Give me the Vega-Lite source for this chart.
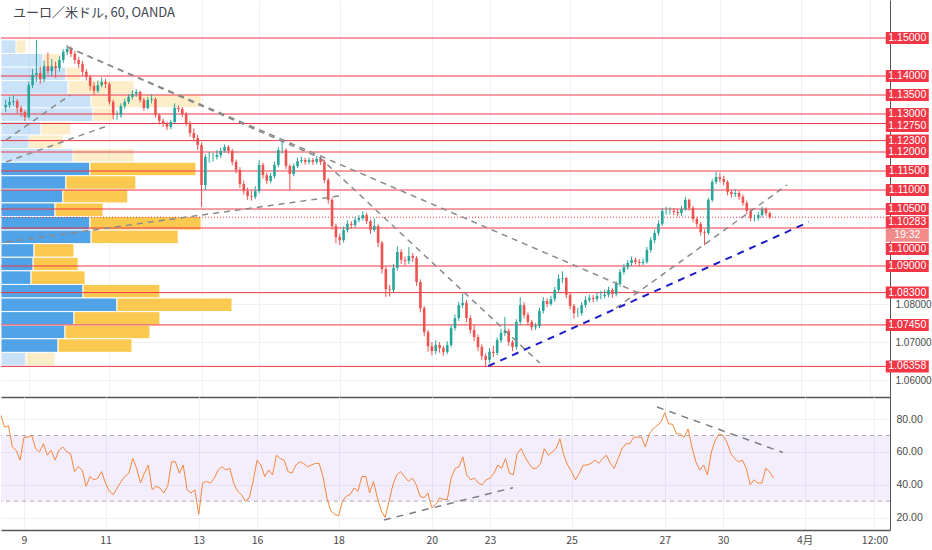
{
  "$schema": "https://vega.github.io/schema/vega-lite/v6.json",
  "padding": 0,
  "spacing": 0,
  "background": "white",
  "datasets": {
    "bars": [
      {"t":-12,"o":1.1318,"hi":1.1338,"lo":1.1305,"c":1.1324,"rsi":83},
      {"t":-10,"o":1.1324,"hi":1.1345,"lo":1.1316,"c":1.1332,"rsi":75},
      {"t":-8,"o":1.1332,"hi":1.1350,"lo":1.1322,"c":1.1334,"rsi":76},
      {"t":-6,"o":1.1334,"hi":1.1340,"lo":1.1302,"c":1.1316,"rsi":63},
      {"t":-4,"o":1.1316,"hi":1.1322,"lo":1.1293,"c":1.1305,"rsi":61},
      {"t":-2,"o":1.1305,"hi":1.1310,"lo":1.1282,"c":1.1292,"rsi":55},
      {"t":0,"o":1.1292,"hi":1.1385,"lo":1.1288,"c":1.1376,"rsi":69},
      {"t":2,"o":1.1376,"hi":1.1418,"lo":1.1368,"c":1.1403,"rsi":69},
      {"t":4,"o":1.1403,"hi":1.1495,"lo":1.1385,"c":1.1408,"rsi":70},
      {"t":6,"o":1.1408,"hi":1.1425,"lo":1.1380,"c":1.1392,"rsi":62},
      {"t":8,"o":1.1392,"hi":1.1440,"lo":1.1385,"c":1.1426,"rsi":60},
      {"t":10,"o":1.1426,"hi":1.1462,"lo":1.1404,"c":1.1413,"rsi":65},
      {"t":12,"o":1.1413,"hi":1.1445,"lo":1.1400,"c":1.1426,"rsi":58},
      {"t":14,"o":1.1426,"hi":1.1438,"lo":1.1395,"c":1.1421,"rsi":61},
      {"t":16,"o":1.1421,"hi":1.1452,"lo":1.1412,"c":1.1442,"rsi":55},
      {"t":18,"o":1.1442,"hi":1.1470,"lo":1.1434,"c":1.1463,"rsi":61},
      {"t":20,"o":1.1463,"hi":1.1482,"lo":1.1455,"c":1.1471,"rsi":63},
      {"t":22,"o":1.1471,"hi":1.1478,"lo":1.1450,"c":1.1458,"rsi":60},
      {"t":24,"o":1.1458,"hi":1.1466,"lo":1.1432,"c":1.1442,"rsi":59},
      {"t":26,"o":1.1442,"hi":1.1450,"lo":1.1422,"c":1.1432,"rsi":48},
      {"t":28,"o":1.1432,"hi":1.1440,"lo":1.1400,"c":1.1411,"rsi":51},
      {"t":30,"o":1.1411,"hi":1.1418,"lo":1.1388,"c":1.1397,"rsi":49},
      {"t":32,"o":1.1397,"hi":1.1402,"lo":1.1362,"c":1.1374,"rsi":39},
      {"t":34,"o":1.1374,"hi":1.1384,"lo":1.1350,"c":1.1361,"rsi":45},
      {"t":36,"o":1.1361,"hi":1.1388,"lo":1.1355,"c":1.1376,"rsi":43},
      {"t":38,"o":1.1376,"hi":1.1396,"lo":1.1370,"c":1.1384,"rsi":44},
      {"t":40,"o":1.1384,"hi":1.1392,"lo":1.1368,"c":1.1379,"rsi":48},
      {"t":42,"o":1.1379,"hi":1.1384,"lo":1.1325,"c":1.1332,"rsi":41},
      {"t":44,"o":1.1332,"hi":1.1338,"lo":1.1286,"c":1.1297,"rsi":36},
      {"t":46,"o":1.1297,"hi":1.1308,"lo":1.1285,"c":1.1297,"rsi":34},
      {"t":48,"o":1.1297,"hi":1.1328,"lo":1.1290,"c":1.1321,"rsi":38},
      {"t":50,"o":1.1321,"hi":1.1340,"lo":1.1314,"c":1.1332,"rsi":42},
      {"t":52,"o":1.1332,"hi":1.1352,"lo":1.1326,"c":1.1345,"rsi":45},
      {"t":54,"o":1.1345,"hi":1.1362,"lo":1.1338,"c":1.1353,"rsi":47},
      {"t":56,"o":1.1353,"hi":1.1365,"lo":1.1345,"c":1.1358,"rsi":56},
      {"t":58,"o":1.1358,"hi":1.1362,"lo":1.1330,"c":1.1337,"rsi":50},
      {"t":60,"o":1.1337,"hi":1.1342,"lo":1.1308,"c":1.1316,"rsi":41},
      {"t":62,"o":1.1316,"hi":1.1345,"lo":1.1312,"c":1.1337,"rsi":47},
      {"t":64,"o":1.1337,"hi":1.1352,"lo":1.1328,"c":1.1339,"rsi":52},
      {"t":66,"o":1.1339,"hi":1.1344,"lo":1.1290,"c":1.1297,"rsi":37},
      {"t":68,"o":1.1297,"hi":1.1302,"lo":1.1272,"c":1.1282,"rsi":39},
      {"t":70,"o":1.1282,"hi":1.1288,"lo":1.1266,"c":1.1274,"rsi":38},
      {"t":72,"o":1.1274,"hi":1.1280,"lo":1.1258,"c":1.1266,"rsi":35},
      {"t":74,"o":1.1266,"hi":1.1285,"lo":1.1260,"c":1.1279,"rsi":39},
      {"t":76,"o":1.1279,"hi":1.1328,"lo":1.1275,"c":1.1316,"rsi":54},
      {"t":78,"o":1.1316,"hi":1.1322,"lo":1.1305,"c":1.1313,"rsi":54},
      {"t":80,"o":1.1313,"hi":1.1318,"lo":1.1292,"c":1.1300,"rsi":47},
      {"t":82,"o":1.1300,"hi":1.1306,"lo":1.1268,"c":1.1276,"rsi":52},
      {"t":84,"o":1.1276,"hi":1.1282,"lo":1.1240,"c":1.1250,"rsi":37},
      {"t":86,"o":1.1250,"hi":1.1262,"lo":1.1228,"c":1.1237,"rsi":35},
      {"t":88,"o":1.1237,"hi":1.1245,"lo":1.1205,"c":1.1218,"rsi":37},
      {"t":90,"o":1.1218,"hi":1.1225,"lo":1.1055,"c":1.1113,"rsi":22},
      {"t":92,"o":1.1113,"hi":1.1195,"lo":1.1100,"c":1.1187,"rsi":41},
      {"t":94,"o":1.1187,"hi":1.1200,"lo":1.1172,"c":1.1187,"rsi":42},
      {"t":96,"o":1.1187,"hi":1.1198,"lo":1.1175,"c":1.1187,"rsi":41},
      {"t":98,"o":1.1187,"hi":1.1205,"lo":1.1180,"c":1.1192,"rsi":44},
      {"t":100,"o":1.1192,"hi":1.1212,"lo":1.1185,"c":1.1203,"rsi":49},
      {"t":102,"o":1.1203,"hi":1.1220,"lo":1.1198,"c":1.1213,"rsi":51},
      {"t":104,"o":1.1213,"hi":1.1218,"lo":1.1196,"c":1.1203,"rsi":49},
      {"t":106,"o":1.1203,"hi":1.1208,"lo":1.1165,"c":1.1174,"rsi":50},
      {"t":108,"o":1.1174,"hi":1.1180,"lo":1.1144,"c":1.1153,"rsi":41},
      {"t":110,"o":1.1153,"hi":1.1160,"lo":1.1105,"c":1.1116,"rsi":36},
      {"t":112,"o":1.1116,"hi":1.1125,"lo":1.1088,"c":1.1097,"rsi":34},
      {"t":114,"o":1.1097,"hi":1.1106,"lo":1.1074,"c":1.1084,"rsi":30},
      {"t":116,"o":1.1084,"hi":1.1098,"lo":1.1072,"c":1.1082,"rsi":32},
      {"t":118,"o":1.1082,"hi":1.1110,"lo":1.1076,"c":1.1097,"rsi":42},
      {"t":120,"o":1.1097,"hi":1.1178,"lo":1.1092,"c":1.1166,"rsi":55},
      {"t":122,"o":1.1166,"hi":1.1172,"lo":1.1130,"c":1.1139,"rsi":52},
      {"t":124,"o":1.1139,"hi":1.1146,"lo":1.1115,"c":1.1124,"rsi":45},
      {"t":126,"o":1.1124,"hi":1.1145,"lo":1.1118,"c":1.1137,"rsi":49},
      {"t":128,"o":1.1137,"hi":1.1175,"lo":1.1130,"c":1.1166,"rsi":46},
      {"t":130,"o":1.1166,"hi":1.1212,"lo":1.1160,"c":1.1205,"rsi":58},
      {"t":132,"o":1.1205,"hi":1.1226,"lo":1.1196,"c":1.1205,"rsi":56},
      {"t":134,"o":1.1205,"hi":1.1210,"lo":1.1155,"c":1.1163,"rsi":55},
      {"t":136,"o":1.1163,"hi":1.1168,"lo":1.1100,"c":1.1142,"rsi":48},
      {"t":138,"o":1.1142,"hi":1.1170,"lo":1.1136,"c":1.1163,"rsi":47},
      {"t":140,"o":1.1163,"hi":1.1184,"lo":1.1158,"c":1.1176,"rsi":52},
      {"t":142,"o":1.1176,"hi":1.1188,"lo":1.1170,"c":1.1179,"rsi":54},
      {"t":144,"o":1.1179,"hi":1.1185,"lo":1.1166,"c":1.1174,"rsi":53},
      {"t":146,"o":1.1174,"hi":1.1186,"lo":1.1168,"c":1.1179,"rsi":51},
      {"t":148,"o":1.1179,"hi":1.1184,"lo":1.1166,"c":1.1174,"rsi":52},
      {"t":150,"o":1.1174,"hi":1.1190,"lo":1.1168,"c":1.1182,"rsi":53},
      {"t":152,"o":1.1182,"hi":1.1188,"lo":1.1166,"c":1.1174,"rsi":53},
      {"t":154,"o":1.1174,"hi":1.1180,"lo":1.1118,"c":1.1126,"rsi":45},
      {"t":156,"o":1.1126,"hi":1.1132,"lo":1.1064,"c":1.1074,"rsi":32},
      {"t":158,"o":1.1074,"hi":1.1080,"lo":1.0995,"c":1.1005,"rsi":24},
      {"t":160,"o":1.1005,"hi":1.1012,"lo":1.0960,"c":1.0976,"rsi":22},
      {"t":162,"o":1.0976,"hi":1.0985,"lo":1.0955,"c":1.0968,"rsi":21},
      {"t":164,"o":1.0968,"hi":1.1004,"lo":1.0962,"c":1.0995,"rsi":30},
      {"t":166,"o":1.0995,"hi":1.1020,"lo":1.0988,"c":1.1011,"rsi":33},
      {"t":168,"o":1.1011,"hi":1.1018,"lo":1.0998,"c":1.1008,"rsi":34},
      {"t":170,"o":1.1008,"hi":1.1030,"lo":1.1002,"c":1.1021,"rsi":38},
      {"t":172,"o":1.1021,"hi":1.1034,"lo":1.1015,"c":1.1026,"rsi":36},
      {"t":174,"o":1.1026,"hi":1.1044,"lo":1.1020,"c":1.1034,"rsi":45},
      {"t":176,"o":1.1034,"hi":1.1040,"lo":1.1010,"c":1.1018,"rsi":45},
      {"t":178,"o":1.1018,"hi":1.1022,"lo":1.0985,"c":1.0995,"rsi":35},
      {"t":180,"o":1.0995,"hi":1.1025,"lo":1.0990,"c":1.1005,"rsi":42},
      {"t":182,"o":1.1005,"hi":1.1010,"lo":1.0950,"c":1.0961,"rsi":32},
      {"t":184,"o":1.0961,"hi":1.0966,"lo":1.0880,"c":1.0892,"rsi":24},
      {"t":186,"o":1.0892,"hi":1.0898,"lo":1.0818,"c":1.0839,"rsi":20},
      {"t":188,"o":1.0839,"hi":1.0850,"lo":1.0820,"c":1.0837,"rsi":30},
      {"t":190,"o":1.0837,"hi":1.0905,"lo":1.0830,"c":1.0895,"rsi":40},
      {"t":192,"o":1.0895,"hi":1.0952,"lo":1.0888,"c":1.0937,"rsi":46},
      {"t":194,"o":1.0937,"hi":1.0944,"lo":1.0905,"c":1.0916,"rsi":48},
      {"t":196,"o":1.0916,"hi":1.0925,"lo":1.0902,"c":1.0913,"rsi":45},
      {"t":198,"o":1.0913,"hi":1.0950,"lo":1.0905,"c":1.0926,"rsi":42},
      {"t":200,"o":1.0926,"hi":1.0934,"lo":1.0910,"c":1.0921,"rsi":44},
      {"t":202,"o":1.0921,"hi":1.0926,"lo":1.0848,"c":1.0858,"rsi":40},
      {"t":204,"o":1.0858,"hi":1.0865,"lo":1.0778,"c":1.0789,"rsi":33},
      {"t":206,"o":1.0789,"hi":1.0795,"lo":1.0715,"c":1.0726,"rsi":32},
      {"t":208,"o":1.0726,"hi":1.0732,"lo":1.0675,"c":1.0689,"rsi":35},
      {"t":210,"o":1.0689,"hi":1.0700,"lo":1.0665,"c":1.0676,"rsi":26},
      {"t":212,"o":1.0676,"hi":1.0705,"lo":1.0668,"c":1.0692,"rsi":28},
      {"t":214,"o":1.0692,"hi":1.0700,"lo":1.0672,"c":1.0684,"rsi":32},
      {"t":216,"o":1.0684,"hi":1.0690,"lo":1.0664,"c":1.0674,"rsi":31},
      {"t":218,"o":1.0674,"hi":1.0702,"lo":1.0668,"c":1.0692,"rsi":31},
      {"t":220,"o":1.0692,"hi":1.0745,"lo":1.0686,"c":1.0737,"rsi":44},
      {"t":222,"o":1.0737,"hi":1.0772,"lo":1.0730,"c":1.0763,"rsi":50},
      {"t":224,"o":1.0763,"hi":1.0806,"lo":1.0755,"c":1.0797,"rsi":51},
      {"t":226,"o":1.0797,"hi":1.0828,"lo":1.0790,"c":1.0803,"rsi":57},
      {"t":228,"o":1.0803,"hi":1.0810,"lo":1.0752,"c":1.0763,"rsi":46},
      {"t":230,"o":1.0763,"hi":1.0770,"lo":1.0722,"c":1.0732,"rsi":43},
      {"t":232,"o":1.0732,"hi":1.0745,"lo":1.0702,"c":1.0713,"rsi":44},
      {"t":234,"o":1.0713,"hi":1.0720,"lo":1.0676,"c":1.0687,"rsi":41},
      {"t":236,"o":1.0687,"hi":1.0694,"lo":1.0652,"c":1.0663,"rsi":40},
      {"t":238,"o":1.0663,"hi":1.0670,"lo":1.0637,"c":1.0653,"rsi":43},
      {"t":240,"o":1.0653,"hi":1.0684,"lo":1.0645,"c":1.0674,"rsi":44},
      {"t":242,"o":1.0674,"hi":1.0690,"lo":1.0660,"c":1.0671,"rsi":47},
      {"t":244,"o":1.0671,"hi":1.0712,"lo":1.0665,"c":1.0705,"rsi":52},
      {"t":246,"o":1.0705,"hi":1.0735,"lo":1.0698,"c":1.0724,"rsi":50},
      {"t":248,"o":1.0724,"hi":1.0766,"lo":1.0716,"c":1.0729,"rsi":56},
      {"t":250,"o":1.0729,"hi":1.0735,"lo":1.0690,"c":1.0700,"rsi":47},
      {"t":252,"o":1.0700,"hi":1.0705,"lo":1.0676,"c":1.0687,"rsi":46},
      {"t":254,"o":1.0687,"hi":1.0760,"lo":1.0680,"c":1.0753,"rsi":59},
      {"t":256,"o":1.0753,"hi":1.0818,"lo":1.0745,"c":1.0797,"rsi":62},
      {"t":258,"o":1.0797,"hi":1.0805,"lo":1.0762,"c":1.0771,"rsi":57},
      {"t":260,"o":1.0771,"hi":1.0778,"lo":1.0744,"c":1.0753,"rsi":53},
      {"t":262,"o":1.0753,"hi":1.0758,"lo":1.0730,"c":1.0739,"rsi":50},
      {"t":264,"o":1.0739,"hi":1.0750,"lo":1.0732,"c":1.0742,"rsi":50},
      {"t":266,"o":1.0742,"hi":1.0790,"lo":1.0736,"c":1.0782,"rsi":53},
      {"t":268,"o":1.0782,"hi":1.0818,"lo":1.0775,"c":1.0808,"rsi":62},
      {"t":270,"o":1.0808,"hi":1.0815,"lo":1.0792,"c":1.0800,"rsi":58},
      {"t":272,"o":1.0800,"hi":1.0822,"lo":1.0795,"c":1.0813,"rsi":60},
      {"t":274,"o":1.0813,"hi":1.0845,"lo":1.0806,"c":1.0837,"rsi":62},
      {"t":276,"o":1.0837,"hi":1.0878,"lo":1.0830,"c":1.0866,"rsi":68},
      {"t":278,"o":1.0866,"hi":1.0886,"lo":1.0855,"c":1.0868,"rsi":58},
      {"t":280,"o":1.0868,"hi":1.0872,"lo":1.0815,"c":1.0824,"rsi":52},
      {"t":282,"o":1.0824,"hi":1.0830,"lo":1.0786,"c":1.0795,"rsi":48},
      {"t":284,"o":1.0795,"hi":1.0800,"lo":1.0762,"c":1.0776,"rsi":43},
      {"t":286,"o":1.0776,"hi":1.0790,"lo":1.0766,"c":1.0776,"rsi":47},
      {"t":288,"o":1.0776,"hi":1.0805,"lo":1.0770,"c":1.0797,"rsi":52},
      {"t":290,"o":1.0797,"hi":1.0820,"lo":1.0790,"c":1.0811,"rsi":52},
      {"t":292,"o":1.0811,"hi":1.0825,"lo":1.0804,"c":1.0816,"rsi":53},
      {"t":294,"o":1.0816,"hi":1.0824,"lo":1.0805,"c":1.0813,"rsi":55},
      {"t":296,"o":1.0813,"hi":1.0830,"lo":1.0806,"c":1.0821,"rsi":53},
      {"t":298,"o":1.0821,"hi":1.0834,"lo":1.0812,"c":1.0821,"rsi":56},
      {"t":300,"o":1.0821,"hi":1.0838,"lo":1.0815,"c":1.0824,"rsi":58},
      {"t":302,"o":1.0824,"hi":1.0846,"lo":1.0818,"c":1.0837,"rsi":53},
      {"t":304,"o":1.0837,"hi":1.0842,"lo":1.0816,"c":1.0826,"rsi":50},
      {"t":306,"o":1.0826,"hi":1.0860,"lo":1.0820,"c":1.0853,"rsi":56},
      {"t":308,"o":1.0853,"hi":1.0892,"lo":1.0846,"c":1.0884,"rsi":62},
      {"t":310,"o":1.0884,"hi":1.0906,"lo":1.0878,"c":1.0897,"rsi":65},
      {"t":312,"o":1.0897,"hi":1.0916,"lo":1.0890,"c":1.0908,"rsi":65},
      {"t":314,"o":1.0908,"hi":1.0925,"lo":1.0900,"c":1.0916,"rsi":69},
      {"t":316,"o":1.0916,"hi":1.0922,"lo":1.0904,"c":1.0911,"rsi":69},
      {"t":318,"o":1.0911,"hi":1.0918,"lo":1.0900,"c":1.0908,"rsi":69},
      {"t":320,"o":1.0908,"hi":1.0920,"lo":1.0902,"c":1.0911,"rsi":63},
      {"t":322,"o":1.0911,"hi":1.0950,"lo":1.0906,"c":1.0942,"rsi":71},
      {"t":324,"o":1.0942,"hi":1.0976,"lo":1.0935,"c":1.0968,"rsi":74},
      {"t":326,"o":1.0968,"hi":1.0996,"lo":1.0960,"c":1.0987,"rsi":76},
      {"t":328,"o":1.0987,"hi":1.1020,"lo":1.0980,"c":1.1011,"rsi":78},
      {"t":330,"o":1.1011,"hi":1.1052,"lo":1.1005,"c":1.1045,"rsi":84},
      {"t":332,"o":1.1045,"hi":1.1056,"lo":1.1035,"c":1.1045,"rsi":77},
      {"t":334,"o":1.1045,"hi":1.1054,"lo":1.1036,"c":1.1045,"rsi":77},
      {"t":336,"o":1.1045,"hi":1.1052,"lo":1.1034,"c":1.1042,"rsi":71},
      {"t":338,"o":1.1042,"hi":1.1050,"lo":1.1030,"c":1.1039,"rsi":71},
      {"t":340,"o":1.1039,"hi":1.1058,"lo":1.1032,"c":1.1050,"rsi":69},
      {"t":342,"o":1.1050,"hi":1.1082,"lo":1.1045,"c":1.1074,"rsi":74},
      {"t":344,"o":1.1074,"hi":1.1078,"lo":1.1046,"c":1.1053,"rsi":63},
      {"t":346,"o":1.1053,"hi":1.1058,"lo":1.1015,"c":1.1024,"rsi":54},
      {"t":348,"o":1.1024,"hi":1.1030,"lo":1.1002,"c":1.1011,"rsi":49},
      {"t":350,"o":1.1011,"hi":1.1016,"lo":1.0980,"c":1.0989,"rsi":52},
      {"t":352,"o":1.0989,"hi":1.0996,"lo":1.0955,"c":1.0987,"rsi":46},
      {"t":354,"o":1.0987,"hi":1.1080,"lo":1.0982,"c":1.1074,"rsi":60},
      {"t":356,"o":1.1074,"hi":1.1128,"lo":1.1068,"c":1.1121,"rsi":67},
      {"t":358,"o":1.1121,"hi":1.1148,"lo":1.1115,"c":1.1134,"rsi":71},
      {"t":360,"o":1.1134,"hi":1.1145,"lo":1.1120,"c":1.1129,"rsi":70},
      {"t":362,"o":1.1129,"hi":1.1138,"lo":1.1112,"c":1.1121,"rsi":66},
      {"t":364,"o":1.1121,"hi":1.1126,"lo":1.1086,"c":1.1095,"rsi":59},
      {"t":366,"o":1.1095,"hi":1.1100,"lo":1.1080,"c":1.1089,"rsi":56},
      {"t":368,"o":1.1089,"hi":1.1102,"lo":1.1082,"c":1.1092,"rsi":54},
      {"t":370,"o":1.1092,"hi":1.1098,"lo":1.1074,"c":1.1082,"rsi":55},
      {"t":372,"o":1.1082,"hi":1.1088,"lo":1.1058,"c":1.1066,"rsi":50},
      {"t":374,"o":1.1066,"hi":1.1072,"lo":1.1036,"c":1.1045,"rsi":40},
      {"t":376,"o":1.1045,"hi":1.1050,"lo":1.1018,"c":1.1026,"rsi":43},
      {"t":378,"o":1.1026,"hi":1.1035,"lo":1.1018,"c":1.1026,"rsi":41},
      {"t":380,"o":1.1026,"hi":1.1042,"lo":1.1020,"c":1.1034,"rsi":41},
      {"t":382,"o":1.1034,"hi":1.1056,"lo":1.1028,"c":1.1050,"rsi":50},
      {"t":384,"o":1.1050,"hi":1.1054,"lo":1.1032,"c":1.1039,"rsi":48},
      {"t":386,"o":1.1039,"hi":1.1044,"lo":1.1024,"c":1.1028,"rsi":44}
    ],
    "profile": [
      {"row":0,"hi":1.1495,"lo":1.14593,"up":65,"down":43,"va":false},
      {"row":1,"hi":1.14593,"lo":1.14235,"up":182,"down":78,"va":false},
      {"row":2,"hi":1.14235,"lo":1.13878,"up":281,"down":65,"va":false},
      {"row":3,"hi":1.13878,"lo":1.1352,"up":290,"down":286,"va":false},
      {"row":4,"hi":1.1352,"lo":1.13163,"up":390,"down":476,"va":false},
      {"row":5,"hi":1.13163,"lo":1.12805,"up":398,"down":87,"va":false},
      {"row":6,"hi":1.12805,"lo":1.12448,"up":173,"down":130,"va":false},
      {"row":7,"hi":1.12448,"lo":1.1209,"up":121,"down":147,"va":false},
      {"row":8,"hi":1.1209,"lo":1.11733,"up":312,"down":264,"va":false},
      {"row":9,"hi":1.11733,"lo":1.11375,"up":385,"down":459,"va":true},
      {"row":10,"hi":1.11375,"lo":1.11018,"up":281,"down":303,"va":true},
      {"row":11,"hi":1.11018,"lo":1.1066,"up":268,"down":281,"va":true},
      {"row":12,"hi":1.1066,"lo":1.10303,"up":234,"down":208,"va":true},
      {"row":13,"hi":1.10303,"lo":1.09945,"up":385,"down":481,"va":true},
      {"row":14,"hi":1.09945,"lo":1.09588,"up":390,"down":377,"va":true},
      {"row":15,"hi":1.09588,"lo":1.0923,"up":143,"down":173,"va":true},
      {"row":16,"hi":1.0923,"lo":1.08873,"up":139,"down":195,"va":true},
      {"row":17,"hi":1.08873,"lo":1.08515,"up":130,"down":234,"va":true},
      {"row":18,"hi":1.08515,"lo":1.08158,"up":355,"down":333,"va":true},
      {"row":19,"hi":1.08158,"lo":1.078,"up":502,"down":498,"va":true},
      {"row":20,"hi":1.078,"lo":1.07443,"up":316,"down":372,"va":true},
      {"row":21,"hi":1.07443,"lo":1.07085,"up":277,"down":368,"va":true},
      {"row":22,"hi":1.07085,"lo":1.06728,"up":247,"down":320,"va":true},
      {"row":23,"hi":1.06728,"lo":1.0637,"up":108,"down":126,"va":false}
    ],
    "levels": [
      {"p":1.15,"label":"1.15000"},
      {"p":1.14,"label":"1.14000"},
      {"p":1.135,"label":"1.13500"},
      {"p":1.13,"label":"1.13000"},
      {"p":1.1275,"label":"1.12750"},
      {"p":1.123,"label":"1.12300"},
      {"p":1.12,"label":"1.12000"},
      {"p":1.115,"label":"1.11500"},
      {"p":1.11,"label":"1.11000"},
      {"p":1.105,"label":"1.10500"},
      {"p":1.1,"label":"1.10000"},
      {"p":1.09,"label":"1.09000"},
      {"p":1.083,"label":"1.08300"},
      {"p":1.0745,"label":"1.07450"},
      {"p":1.06358,"label":"1.06358"}
    ],
    "current": [{"p":1.10283,"label":"1.10283","timer":"19:32"}],
    "trend": [
      {"id":"A","t":20.1,"p":1.14763},{"id":"A","t":317.7,"p":1.08289},
      {"id":"B","t":20.1,"p":1.14763},{"id":"B","t":151.9,"p":1.11842},{"id":"B","t":266.2,"p":1.06447},
      {"id":"C","t":-11.8,"p":1.09632},{"id":"C","t":161.7,"p":1.10842},
      {"id":"E","t":305.9,"p":1.07895},{"id":"E","t":395.0,"p":1.11132},
      {"id":"F","t":-11.8,"p":1.11737},{"id":"F","t":42.2,"p":1.12711},
      {"id":"G","t":-11.8,"p":1.12316},{"id":"G","t":21.6,"p":1.135},
      {"id":"S","t":239.4,"p":1.06368},{"id":"S","t":406.3,"p":1.10158}
    ],
    "rsiTrend": [
      {"id":"R1","t":326.0,"r":87.4},{"id":"R1","t":390.8,"r":59.7},
      {"id":"R2","t":185.4,"r":18.5},{"id":"R2","t":251.8,"r":38.2}
    ],
    "bands": [{"lo":30,"hi":70}],
    "rsiLevels": [{"lvl":30},{"lvl":70}],
    "title": [{"text":"ユーロ／米ドル, 60, OANDA","t":-8.2,"p":1.15658}]
  },
  "vconcat": [
    {
      "width": 889,
      "height": 397,
      "layer": [
        {
          "data": {"name": "profile"},
          "transform": [
            {"fold": ["up", "down"], "as": ["part", "vol"]},
            {"stack": "vol", "groupby": ["row"], "sort": [{"field": "part", "order": "descending"}], "as": ["v0", "v1"]}
          ],
          "mark": {"type": "rect", "stroke": "white", "strokeWidth": 1},
          "encoding": {
            "x": {"field": "v0", "type": "quantitative", "scale": {"domain": [0, 3848], "nice": false}, "axis": null},
            "x2": {"field": "v1"},
            "y": {
              "field": "hi", "type": "quantitative",
              "scale": {"domain": [1.05553, 1.16], "nice": false, "zero": false},
              "axis": {"orient": "right", "values": [1.06, 1.07, 1.08], "format": ".5f", "grid": true, "title": null, "domain": true, "labelFontSize": 10, "labelPadding": 5}
            },
            "y2": {"field": "lo"},
            "color": {"field": "part", "type": "nominal", "scale": {"domain": ["up", "down"], "range": ["#4fa3e6", "#fbc94f"]}, "legend": null},
            "opacity": {"condition": {"test": "datum.va", "value": 1}, "value": 0.3}
          }
        },
        {
          "layer": [
            {
              "data": {"name": "levels"},
              "mark": {"type": "rule", "color": "#f23645", "strokeWidth": 1},
              "encoding": {"y": {"field": "p", "type": "quantitative"}}
            },
            {
              "data": {"name": "current"},
              "mark": {"type": "rule", "color": "#f23645", "strokeWidth": 1, "strokeDash": [1, 2]},
              "encoding": {"y": {"field": "p", "type": "quantitative"}}
            },
            {
              "data": {"name": "bars"},
              "mark": {"type": "rule", "strokeWidth": 1, "clip": true},
              "encoding": {
                "x": {
                  "field": "t", "type": "quantitative",
                  "scale": {"domain": [-11.84, 446], "nice": false, "zero": false},
                  "axis": {"values": [0, 42, 90, 120, 162, 210, 240, 282, 330, 360, 402, 438], "labels": false, "ticks": false, "grid": true, "domain": true, "domainWidth": 1.5, "title": null}
                },
                "y": {"field": "lo", "type": "quantitative"},
                "y2": {"field": "hi"},
                "color": {"condition": {"test": "datum.c >= datum.o", "value": "#26a69a"}, "value": "#ef5350"}
              }
            },
            {
              "data": {"name": "bars"},
              "mark": {"type": "bar", "size": 2.6, "clip": true},
              "encoding": {
                "x": {"field": "t", "type": "quantitative"},
                "y": {"field": "o", "type": "quantitative"},
                "y2": {"field": "c"},
                "color": {"condition": {"test": "datum.c >= datum.o", "value": "#26a69a"}, "value": "#ef5350"}
              }
            },
            {
              "data": {"name": "trend"},
              "transform": [{"filter": "datum.id != 'S'"}],
              "mark": {"type": "line", "color": "#8a8a8a", "strokeWidth": 1.5, "strokeDash": [6, 5], "clip": true},
              "encoding": {
                "x": {"field": "t", "type": "quantitative"},
                "y": {"field": "p", "type": "quantitative"},
                "detail": {"field": "id"}
              }
            },
            {
              "data": {"name": "trend"},
              "transform": [{"filter": "datum.id == 'S'"}],
              "mark": {"type": "line", "color": "#1c1cc8", "strokeWidth": 2, "strokeDash": [7, 6], "clip": true},
              "encoding": {
                "x": {"field": "t", "type": "quantitative"},
                "y": {"field": "p", "type": "quantitative"}
              }
            },
            {
              "data": {"name": "levels"},
              "transform": [{"filter": "datum.p != 1.1 && datum.p != 1.1275"}],
              "mark": {"type": "tick", "orient": "horizontal", "size": 43, "thickness": 12, "color": "#f23645", "opacity": 1},
              "encoding": {
                "x": {"datum": 457.6, "type": "quantitative"},
                "y": {"field": "p", "type": "quantitative"}
              }
            },
            {
              "data": {"name": "levels"},
              "transform": [{"filter": "datum.p != 1.1 && datum.p != 1.1275"}],
              "mark": {"type": "text", "color": "white", "fontSize": 10.5, "font": "Liberation Sans", "align": "center", "baseline": "middle"},
              "encoding": {
                "x": {"datum": 457.6, "type": "quantitative"},
                "y": {"field": "p", "type": "quantitative"},
                "text": {"field": "label"}
              }
            },
            {
              "data": {"name": "levels"},
              "transform": [{"filter": "datum.p == 1.1275"}],
              "mark": {"type": "tick", "orient": "horizontal", "size": 43, "thickness": 12, "color": "#f23645", "opacity": 1, "yOffset": 2.5},
              "encoding": {
                "x": {"datum": 457.6, "type": "quantitative"},
                "y": {"field": "p", "type": "quantitative"}
              }
            },
            {
              "data": {"name": "levels"},
              "transform": [{"filter": "datum.p == 1.1275"}],
              "mark": {"type": "text", "color": "white", "fontSize": 10.5, "font": "Liberation Sans", "align": "center", "baseline": "middle", "dy": 2.5},
              "encoding": {
                "x": {"datum": 457.6, "type": "quantitative"},
                "y": {"field": "p", "type": "quantitative"},
                "text": {"field": "label"}
              }
            },
            {
              "data": {"name": "levels"},
              "transform": [{"filter": "datum.p == 1.1"}],
              "mark": {"type": "tick", "orient": "horizontal", "size": 43, "thickness": 12, "color": "#f23645", "opacity": 1, "yOffset": 21},
              "encoding": {
                "x": {"datum": 457.6, "type": "quantitative"},
                "y": {"field": "p", "type": "quantitative"}
              }
            },
            {
              "data": {"name": "levels"},
              "transform": [{"filter": "datum.p == 1.1"}],
              "mark": {"type": "text", "color": "white", "fontSize": 10.5, "font": "Liberation Sans", "align": "center", "baseline": "middle", "dy": 21},
              "encoding": {
                "x": {"datum": 457.6, "type": "quantitative"},
                "y": {"field": "p", "type": "quantitative"},
                "text": {"field": "label"}
              }
            },
            {
              "data": {"name": "current"},
              "mark": {"type": "tick", "orient": "horizontal", "size": 43, "thickness": 12, "color": "#f23645", "opacity": 1, "yOffset": 5},
              "encoding": {
                "x": {"datum": 457.6, "type": "quantitative"},
                "y": {"field": "p", "type": "quantitative"}
              }
            },
            {
              "data": {"name": "current"},
              "mark": {"type": "text", "color": "white", "fontSize": 10.5, "font": "Liberation Sans", "align": "center", "baseline": "middle", "dy": 5},
              "encoding": {
                "x": {"datum": 457.6, "type": "quantitative"},
                "y": {"field": "p", "type": "quantitative"},
                "text": {"field": "label"}
              }
            },
            {
              "data": {"name": "current"},
              "mark": {"type": "tick", "orient": "horizontal", "size": 43, "thickness": 13, "color": "#f38a8a", "opacity": 1, "yOffset": 18},
              "encoding": {
                "x": {"datum": 457.6, "type": "quantitative"},
                "y": {"field": "p", "type": "quantitative"}
              }
            },
            {
              "data": {"name": "current"},
              "mark": {"type": "text", "color": "white", "fontSize": 10.5, "font": "Liberation Sans", "align": "center", "baseline": "middle", "dy": 18},
              "encoding": {
                "x": {"datum": 457.6, "type": "quantitative"},
                "y": {"field": "p", "type": "quantitative"},
                "text": {"field": "timer"}
              }
            },
            {
              "data": {"name": "title"},
              "mark": {"type": "text", "color": "#434651", "fontSize": 13, "font": "Noto Sans CJK JP", "align": "left", "baseline": "middle"},
              "encoding": {
                "x": {"field": "t", "type": "quantitative"},
                "y": {"field": "p", "type": "quantitative"},
                "text": {"field": "text"}
              }
            }
          ]
        }
      ],
      "resolve": {"scale": {"x": "independent"}, "axis": {"x": "independent"}}
    },
    {
      "width": 889,
      "height": 133,
      "layer": [
        {
          "data": {"name": "bands"},
          "mark": {"type": "rect", "color": "#9c6ee8", "opacity": 0.12},
          "encoding": {
            "x": {"datum": -11.84, "type": "quantitative"},
            "x2": {"datum": 446},
            "y": {
              "field": "lo", "type": "quantitative",
              "scale": {"domain": [12.4, 93.5], "nice": false, "zero": false},
              "axis": {"orient": "right", "values": [20, 40, 60, 80], "format": ".2f", "grid": true, "title": null, "domain": true}
            },
            "y2": {"field": "hi"}
          }
        },
        {
          "data": {"name": "rsiLevels"},
          "mark": {"type": "rule", "color": "#a8a8b0", "strokeWidth": 1, "strokeDash": [4, 4]},
          "encoding": {"y": {"field": "lvl", "type": "quantitative"}}
        },
        {
          "data": {"name": "bars"},
          "mark": {"type": "line", "color": "#f5873c", "strokeWidth": 1, "clip": true},
          "encoding": {
            "x": {
              "field": "t", "type": "quantitative",
              "scale": {"domain": [-11.84, 446], "nice": false, "zero": false},
              "axis": {
                "values": [0, 42, 90, 120, 162, 210, 240, 282, 330, 360, 402, 438],
                "labelExpr": "datum.value == 0 ? '9' : datum.value == 42 ? '11' : datum.value == 90 ? '13' : datum.value == 120 ? '16' : datum.value == 162 ? '18' : datum.value == 210 ? '20' : datum.value == 240 ? '23' : datum.value == 282 ? '25' : datum.value == 330 ? '27' : datum.value == 360 ? '30' : datum.value == 402 ? '4月' : '12:00'",
                "grid": true, "domain": true, "domainWidth": 1.5, "title": null, "labelPadding": 5, "labelFont": "Noto Sans CJK JP"
              }
            },
            "y": {"field": "rsi", "type": "quantitative"}
          }
        },
        {
          "data": {"name": "rsiTrend"},
          "mark": {"type": "line", "color": "#7c7c84", "strokeWidth": 1.5, "strokeDash": [7, 6], "clip": true},
          "encoding": {
            "x": {"field": "t", "type": "quantitative"},
            "y": {"field": "r", "type": "quantitative"},
            "detail": {"field": "id"}
          }
        }
      ]
    }
  ],
  "resolve": {"scale": {"x": "independent"}},
  "config": {
    "view": {"stroke": null},
    "font": "Liberation Sans",
    "axis": {
      "labelFont": "Liberation Sans",
      "labelFontSize": 10.5,
      "labelColor": "#4a4a4a",
      "gridColor": "#eef0f4",
      "domainColor": "#555555",
      "ticks": false,
      "labelPadding": 6
    }
  }
}
